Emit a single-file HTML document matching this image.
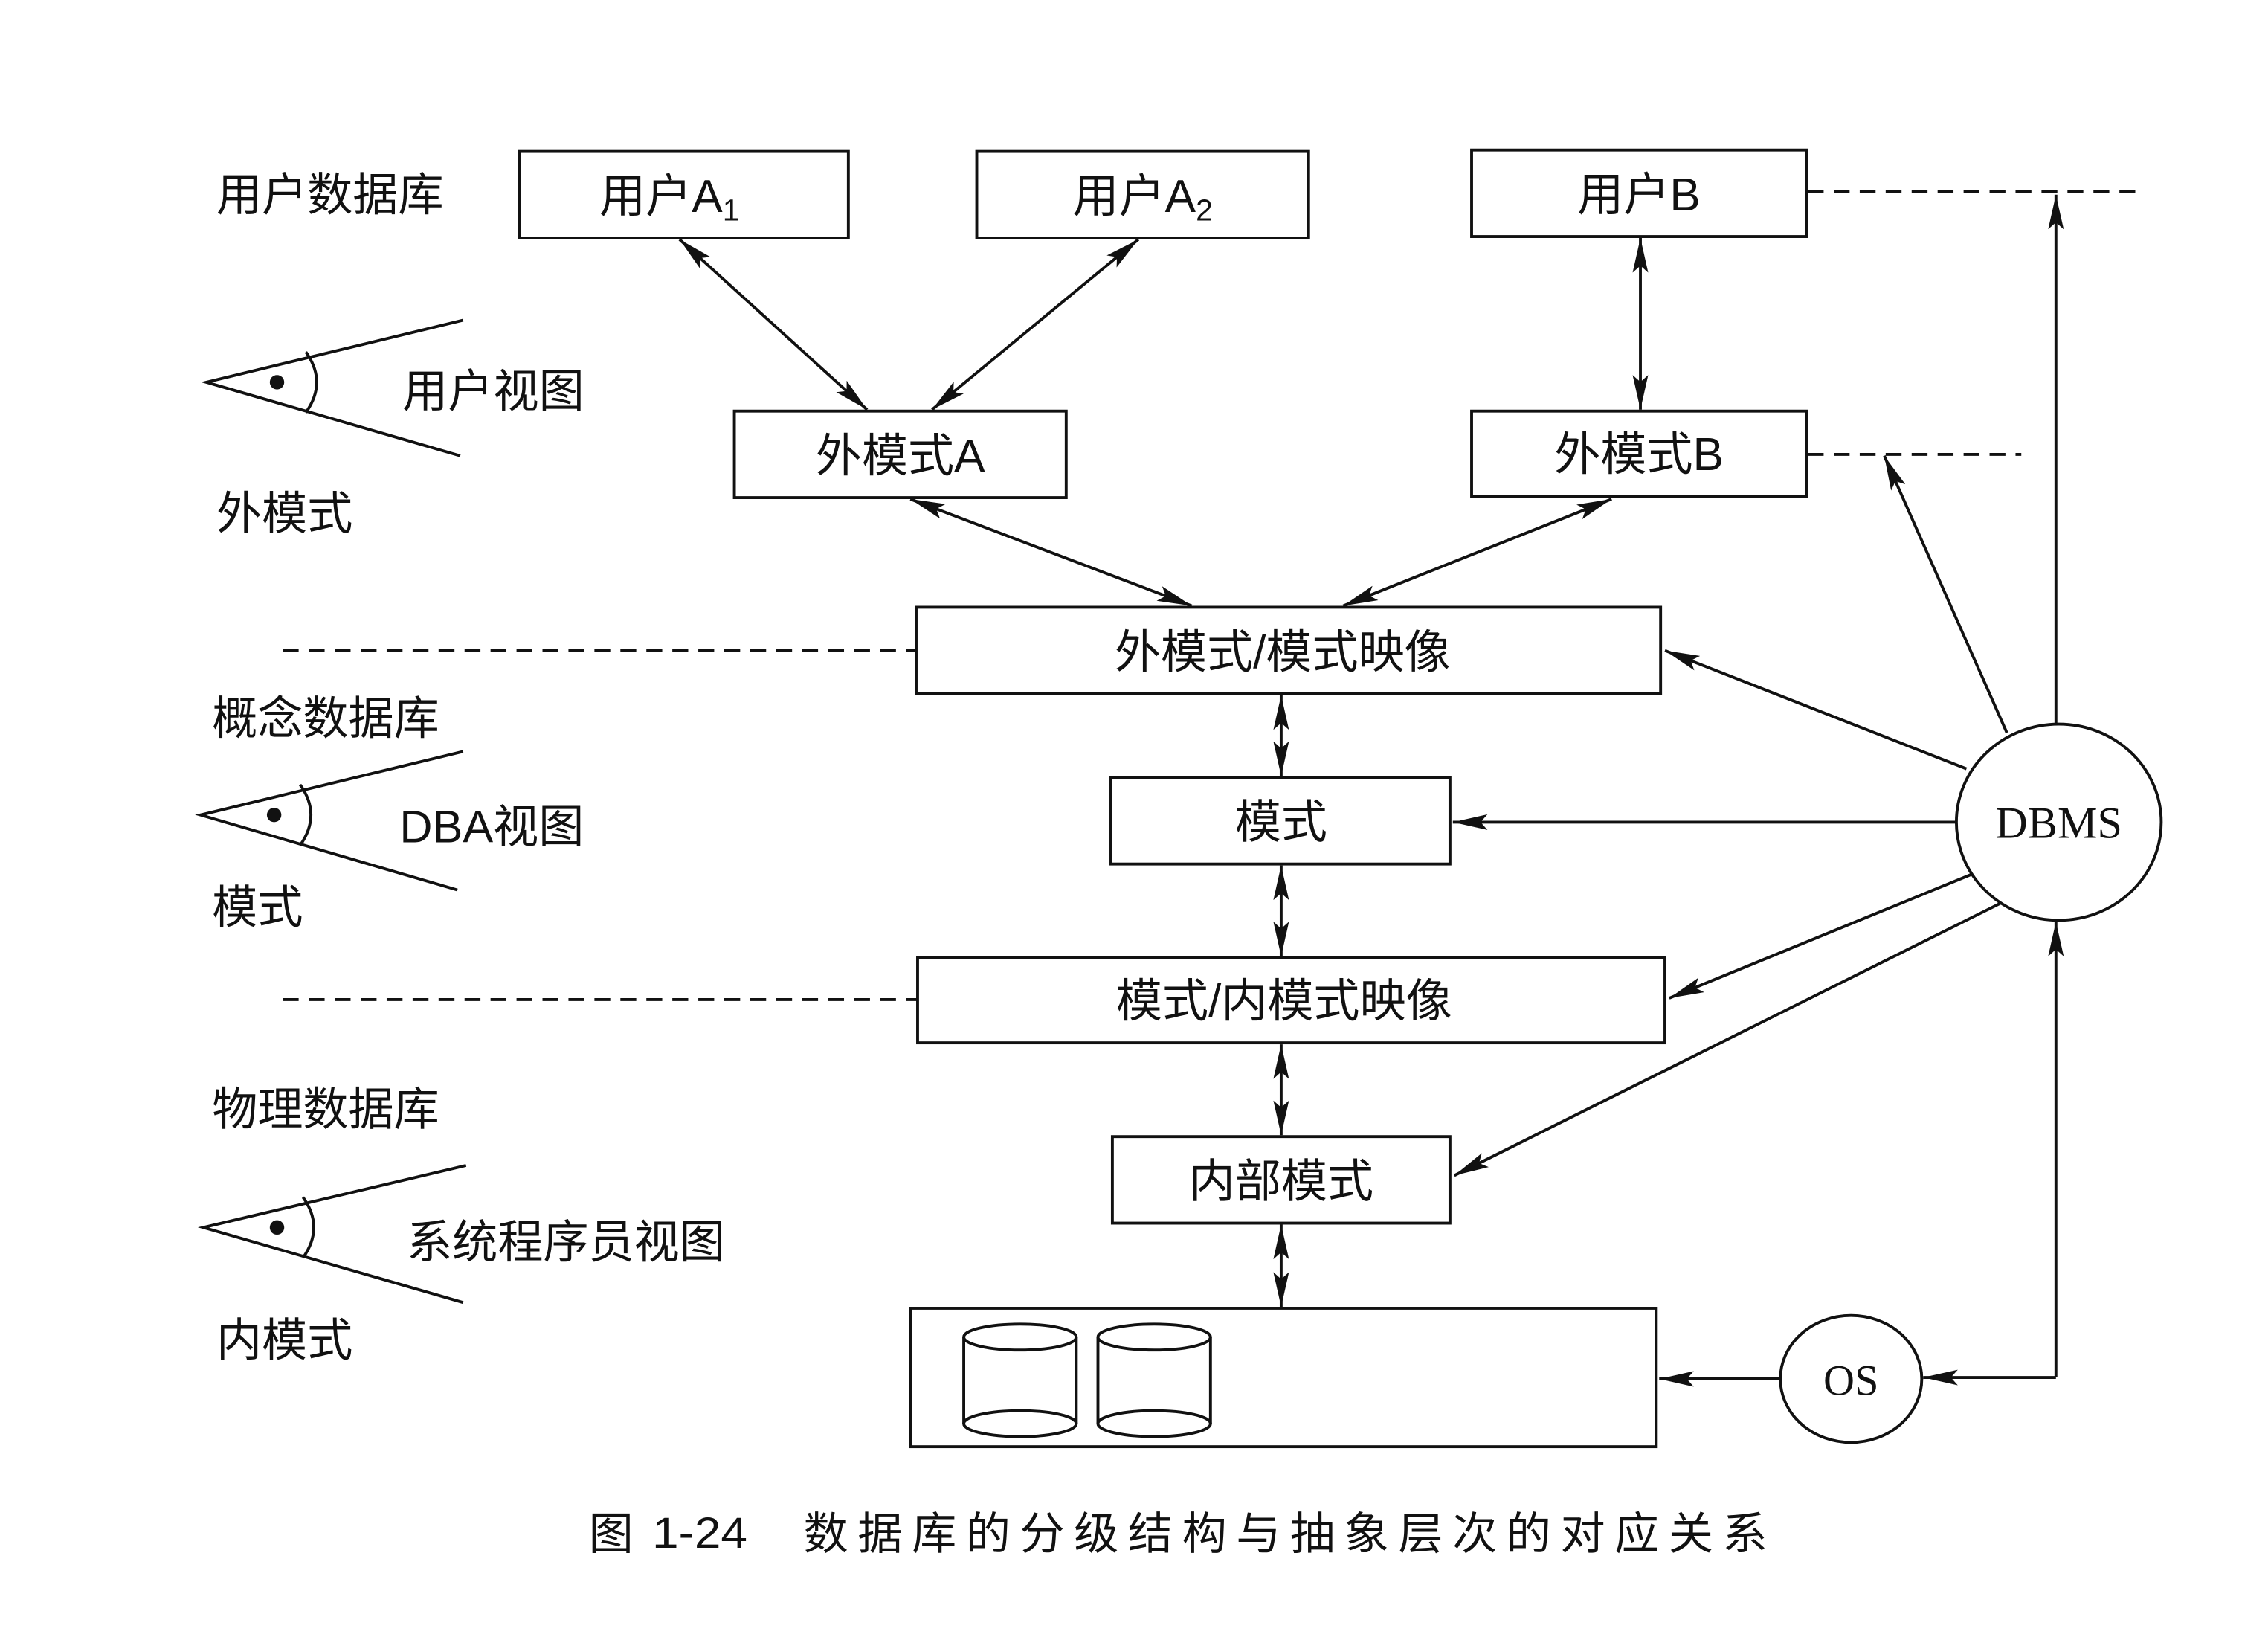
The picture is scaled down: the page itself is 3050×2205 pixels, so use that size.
<!DOCTYPE html>
<html><head><meta charset="utf-8"><style>
html,body{margin:0;padding:0;background:#fff;}
svg{display:block;}
text{font-family:"Liberation Sans","Noto Sans CJK SC",sans-serif;fill:#111;}
.s{font-family:"Liberation Serif","Noto Serif CJK SC",serif;}
</style></head><body>
<svg width="3050" height="2205" viewBox="0 0 1572 1137" preserveAspectRatio="none" xmlns="http://www.w3.org/2000/svg">
<defs>
<marker id="a" viewBox="0 0 20 9" refX="20" refY="4.5" markerWidth="12" markerHeight="5.4" markerUnits="strokeWidth" orient="auto-start-reverse">
<path d="M0,0 L20,4.5 L0,9 L4,4.5 z" fill="#111"/></marker>
</defs>
<g fill="none" stroke="#111" stroke-width="2">
<rect x="360" y="105" width="228" height="60"/>
<rect x="677" y="105" width="230" height="60"/>
<rect x="1020" y="104" width="232" height="60"/>
<rect x="509" y="285" width="230" height="60"/>
<rect x="1020" y="285" width="232" height="59"/>
<rect x="635" y="421" width="516" height="60"/>
<rect x="770" y="539" width="235" height="60"/>
<rect x="636" y="664" width="518" height="59"/>
<rect x="771" y="788" width="234" height="60"/>
<rect x="631" y="907" width="517" height="96"/>
<ellipse cx="1427" cy="570" rx="71" ry="68"/>
<ellipse cx="1283" cy="956" rx="49" ry="44"/>
<path d="M668,927 L668,987 M746,927 L746,987"/>
<ellipse cx="707" cy="927" rx="39" ry="9"/>
<path d="M668,987 A39,9 0 0 0 746,987"/><path d="M668,987 A39,9 0 0 1 746,987"/>
<path d="M761,927 L761,987 M839,927 L839,987"/>
<ellipse cx="800" cy="927" rx="39" ry="9"/>
<path d="M761,987 A39,9 0 0 0 839,987"/><path d="M761,987 A39,9 0 0 1 839,987"/>
<g marker-start="url(#a)" marker-end="url(#a)">
<line x1="471" y1="166" x2="601" y2="284"/>
<line x1="789" y1="166" x2="646" y2="284"/>
<line x1="1137" y1="165" x2="1137" y2="284"/>
<line x1="631" y1="346" x2="826" y2="420"/>
<line x1="1117" y1="346" x2="931" y2="420"/>
<line x1="888" y1="482" x2="888" y2="538"/>
<line x1="888" y1="600" x2="888" y2="663"/>
<line x1="888" y1="724" x2="888" y2="787"/>
<line x1="888" y1="849" x2="888" y2="906"/>
</g>
<g marker-end="url(#a)">
<line x1="1363" y1="533" x2="1154" y2="451"/>
<line x1="1356" y1="570" x2="1007" y2="570"/>
<line x1="1367" y1="606" x2="1157" y2="692"/>
<line x1="1387" y1="626" x2="1008" y2="815"/>
<line x1="1391" y1="508" x2="1306" y2="316"/>
<line x1="1425" y1="502" x2="1425" y2="135"/>
<line x1="1425" y1="955" x2="1425" y2="639"/>
<line x1="1425" y1="955" x2="1333" y2="955"/>
<line x1="1234" y1="956" x2="1150" y2="956"/>
</g>
<g stroke-dasharray="11,7">
<line x1="1253" y1="133" x2="1481" y2="133"/>
<line x1="1253" y1="315" x2="1401" y2="315"/>
<line x1="196" y1="451" x2="635" y2="451"/>
<line x1="196" y1="693" x2="636" y2="693"/>
</g>
<path d="M321,222 L143,265 L319,316"/><path d="M212,244 Q227,265 212,286"/>
<path d="M321,521 L139,565 L317,617"/><path d="M208,544 Q223,565 208,586"/>
<path d="M323,808 L141,851 L321,903"/><path d="M210,830 Q225,851 210,872"/>
</g>
<circle cx="192" cy="265" r="5" fill="#111"/>
<circle cx="190" cy="565" r="5" fill="#111"/>
<circle cx="192" cy="851" r="5" fill="#111"/>
<g font-size="31.5">
<text x="150" y="146">用户数据库</text>
<text x="279" y="282">用户视图</text>
<text x="150" y="367">外模式</text>
<text x="147" y="509">概念数据库</text>
<text x="277" y="584">DBA视图</text>
<text x="147" y="640">模式</text>
<text x="147" y="780">物理数据库</text>
<text x="282" y="872">系统程序员视图</text>
<text x="150" y="940">内模式</text>
</g>
<g font-size="32" text-anchor="middle">
<text x="464" y="147">用户A<tspan font-size="21" dy="6">1</tspan></text>
<text x="792" y="147">用户A<tspan font-size="21" dy="6">2</tspan></text>
<text x="1136" y="146">用户B</text>
<text x="624" y="327">外模式A</text>
<text x="1136" y="326">外模式B</text>
<text x="889" y="463">外模式/模式映像</text>
<text x="888" y="581">模式</text>
<text x="890" y="705">模式/内模式映像</text>
<text x="888" y="830">内部模式</text>
</g>
<text class="s" x="1427" y="581" font-size="31" text-anchor="middle">DBMS</text>
<text class="s" x="1283" y="967" font-size="30" text-anchor="middle">OS</text>
<text x="408" y="1074" font-size="31" font-family="'Noto Serif CJK SC',serif">图</text>
<text x="452" y="1073" font-size="30" font-family="'Liberation Mono',monospace" textLength="66" lengthAdjust="spacingAndGlyphs">1-24</text>
<text x="557" y="1074" font-size="31" font-family="'Noto Serif CJK SC',serif" textLength="668">数据库的分级结构与抽象层次的对应关系</text>
</svg>
</body></html>
